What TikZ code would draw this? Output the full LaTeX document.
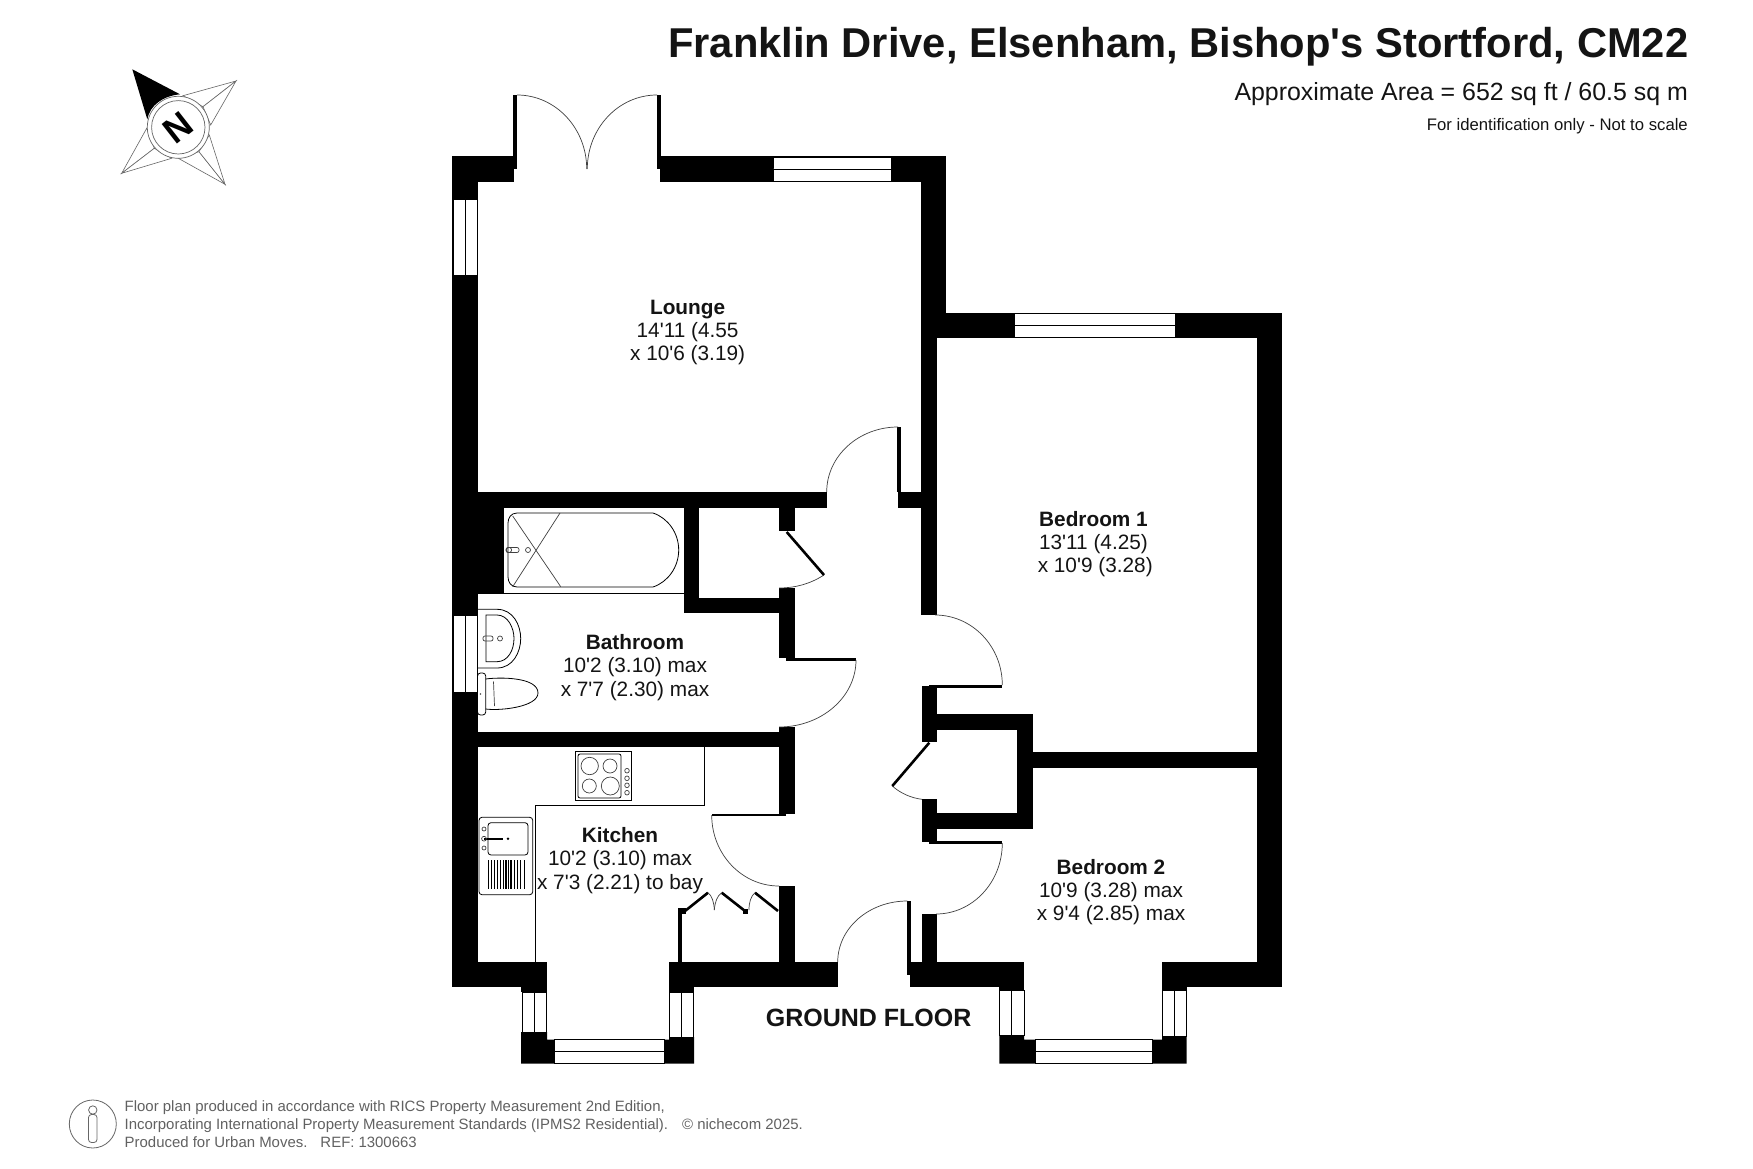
\documentclass[tikz,border=0pt]{standalone}
\usepackage{fontspec}
\setmainfont[Ligatures=TeXOff]{Liberation Sans}
\usetikzlibrary{calc}
\newcommand\fz[2]{\fontsize{#1}{#2}\selectfont}
\newcommand\wal[4]{\fill[wallfill] (#1,#2) rectangle (#3,#4);}
\newcommand\swing[3]{\draw[fine] (#1) .. controls ($(#1)!.5523!(#3)$) and ($(#2)!.5523!(#3)$) .. (#2);}
\tikzset{
  wallfill/.style={fill=black},
  fine/.style={draw=black!75,line width=0.7pt},
  fitting/.style={draw=black,line width=0.8pt},
  glazing/.style={draw=black,fill=white,line width=0.9pt},
  roomlabel/.style={align=center,inner sep=0pt,text=black!92,font=\fz{20.8}{23.2}},
  compassarm/.style={draw=black!60,fill=white,line width=0.6pt},
  footer/.style={text=black!62,align=left,inner sep=0pt,font=\fz{14.95}{18.4}},
}
\newcommand\winv[3]{\draw[glazing] (#1,#2) rectangle (#1+24.5,#3); \draw[glazing] (#1+12,#2) -- (#1+12,#3);}
\newcommand\winh[3]{\draw[glazing] (#1,#2) rectangle (#3,#2+24); \draw[glazing] (#1,#2+12) -- (#3,#2+12);}
\begin{document}
\begin{tikzpicture}[x=1pt,y=-1pt]
\useasboundingbox (0,0) rectangle (1753,1169);
\fill[white] (0,0) rectangle (1753,1169);
% ---- titles
\node[anchor=east,inner sep=0pt,font=\fz{41.7}{45}\bfseries,text=black!92] (title) at (1688.5,46.5) {Franklin Drive, Elsenham, Bishop's Stortford, CM22};
\node[anchor=east,inner sep=0pt,font=\fz{24.9}{28},text=black!92] (area) at (1688,94.5) {Approximate Area = 652 sq ft / 60.5 sq m};
\node[anchor=east,inner sep=0pt,font=\fz{16.7}{19},text=black!92] (note) at (1688,126) {For identification only - Not to scale};
% ---- compass
\coordinate (cc) at (178.3,127.3);
\draw[compassarm] (236,81) -- (183,95.7) -- (203,106.7) -- cycle;
\draw[compassarm] (236,81) -- (210.7,125) -- (203,106.7) -- cycle;
\draw[compassarm] (121.7,173.3) -- (146.7,128.3) -- (154.3,148.3) -- cycle;
\draw[compassarm] (121.7,173.3) -- (171.7,158.3) -- (154.3,148.3) -- cycle;
\draw[compassarm] (225,184.3) -- (178.3,158.3) -- (199,151.7) -- cycle;
\draw[compassarm] (225,184.3) -- (209.3,135) -- (199,151.7) -- cycle;
\fill[black] (132.3,69.3) -- (180,94.3) .. controls (163,96) and (150,105) .. (147.3,119.3) -- cycle;
\draw[fine,fill=white,draw=black!60] (cc) circle[radius=31];
\draw[fine,draw=black!60] (cc) circle[radius=26.7];
\node[rotate=38,inner sep=0pt,font=\fz{36}{38}\bfseries] (northmark) at (cc) {N};
% ---- walls
\wal{452}{156}{478}{987}
\wal{452}{156}{514}{182}
\wal{513}{95}{517}{169}
\wal{657}{95}{661}{169}
\wal{660}{156}{946}{182}
\wal{921}{156}{946}{338}
\wal{921}{338}{936.5}{615}
\wal{921}{313}{1282}{338}
\wal{1257.3}{313}{1282}{987}
\wal{478}{492}{827}{508}
\wal{898}{492}{936}{508}
\wal{897}{427}{901}{492}
\wal{452}{508}{504}{594}
\wal{684}{508}{699}{613}
\wal{684}{598}{795}{613}
\wal{779}{508}{795}{531}
\wal{779}{588}{795}{658}
\wal{786}{658}{856}{661}
\wal{779}{727}{795}{813.5}
\wal{478}{732}{795}{747}
\wal{711.7}{813.5}{786}{816}
\wal{779}{886}{795}{962}
\wal{452}{962}{547}{987}
\wal{669}{962}{838}{987}
\wal{910}{962}{1024}{987}
\wal{1162}{962}{1282}{987}
\wal{907.3}{901}{910.7}{975}
\wal{922}{686}{937}{742}
\wal{929.3}{685}{1002.3}{687.5}
\wal{937}{714}{1033}{730}
\wal{1017}{714}{1033}{829}
\wal{922}{799.3}{937}{842}
\wal{922}{813}{1033}{829}
\wal{929.3}{841}{1002.3}{844}
\wal{922}{914}{937}{962}
\wal{1033}{752}{1257.3}{768}
% bay blocks, kitchen
\wal{521}{987}{547}{992}
\wal{669}{987}{694}{992}
\fill[wallfill] (521,1032) -- (547,1032) -- (547,1039.5) -- (554,1039.5) -- (554,1063.5) -- (521,1063.5) -- cycle;
\fill[wallfill] (664,1039.5) -- (669,1039.5) -- (669,1037) -- (694,1037) -- (694,1063.5) -- (664,1063.5) -- cycle;
% bay blocks, bedroom 2
\wal{999.3}{987}{1024}{990}
\wal{1162}{987}{1186.7}{990}
\fill[wallfill] (999.3,1035) -- (1024,1035) -- (1024,1039.5) -- (1035,1039.5) -- (1035,1063.5) -- (999.3,1063.5) -- cycle;
\fill[wallfill] (1152.7,1039.5) -- (1162,1039.5) -- (1162,1036) -- (1186.7,1036) -- (1186.7,1063.5) -- (1152.7,1063.5) -- cycle;
% ---- windows
\winv{453}{199}{275}
\winv{453}{615}{692}
\winv{522}{992}{1032}
\winv{669.2}{992}{1037}
\winv{999.5}{990}{1035}
\winv{1162}{990}{1036}
\winh{773}{157}{891}
\winh{1014}{313.7}{1175}
\winh{554}{1039.5}{664}
\winh{1035}{1039.5}{1152.7}
% ---- door swings
\swing{517,95}{586.7,169}{586.7,95}
\swing{657,95}{587.3,169}{587.3,95}
\swing{826.7,492}{898,427}{826.7,427}
\swing{856,660}{779,727}{856,727}
\swing{711.7,815}{779,886}{711.7,886}
\swing{907.3,901}{837.7,962}{837.7,901}
\swing{935,615}{1002.3,685}{1002.3,615}
\swing{1002.3,843}{936,914}{1002.3,914}
\draw[fine] (824,575) .. controls (810,584) and (795,588) .. (779,588);
\draw[fine] (892.3,786) .. controls (900,793) and (911,798) .. (922,799.3);
\draw[black,line width=2.6pt] (786.7,532) -- (824,575);
\draw[black,line width=2.6pt] (929.3,742.7) -- (892.3,786);
% bi-fold cupboard
\wal{677.7}{908}{682.3}{962}
\fill[wallfill] (677.7,908) rectangle (686,914);
\fill[wallfill] (743,908.5) rectangle (748,914);
\draw[black,line width=2.6pt] (685,911) -- (708,892.7);
\draw[black,line width=2.6pt] (721.7,892.7) -- (745,911);
\draw[black,line width=2.6pt] (755,892.7) -- (778,911);
\draw[fine] (708,892.7) .. controls (712,896) and (714,902) .. (714.3,910);
\draw[fine] (721.7,892.7) .. controls (717,896) and (715,902) .. (714.3,910);
\draw[fine] (755,892.7) .. controls (751,896) and (749,902) .. (749,910);
% ---- bath
\draw[fitting] (504,593.2) -- (684,593.2);
\draw[fitting] (517,513) -- (653,513) .. controls (668,518) and (678.7,533) .. (678.7,550) .. controls (678.7,567) and (668,582) .. (653,587) -- (517,587) .. controls (511,587) and (508,582) .. (508,577) -- (508,523) .. controls (508,518) and (511,513) .. (517,513) -- cycle;
\draw[fine] (512.7,516) -- (560.7,586.7);
\draw[fine] (560,513) -- (512.7,586.7);
\draw[fine] (509,550) circle[radius=2.6];
\draw[fine,rounded corners=2pt] (506,547.5) rectangle (519,552.5);
\draw[fine] (528,550) circle[radius=2.5];
% ---- basin
\draw[fitting] (478,609.3) -- (497,609.3) .. controls (513,609.3) and (520.7,625) .. (520.7,638.5) .. controls (520.7,652) and (513,668) .. (497,668) -- (478,668);
\draw[fitting] (486,615) -- (497,615) .. controls (508,615) and (514,628) .. (514,638.5) .. controls (514,650) and (508,661.7) .. (497,661.7) -- (486,661.7) -- cycle;
\draw[fine,rounded corners=2pt] (483,636) rectangle (493,641);
\draw[fine] (500,638.5) circle[radius=2.5];
% ---- toilet
\draw[fitting,rounded corners=3pt] (477.5,673) rectangle (485.7,715);
\fill[black!70] (480.5,694) circle[radius=0.9];
\draw[fitting] (485.7,679) .. controls (500,677) and (538,677) .. (538,693) .. controls (538,707) and (500,711) .. (485.7,709);
\draw[fine] (493.5,681.5) -- (494.5,706);
% ---- kitchen
\draw[fitting] (704.3,747) -- (704.3,805.3) -- (535.7,805.3) -- (535.7,962);
\draw[fitting] (575.3,751.3) rectangle (631.7,800.3);
\draw[fitting,rounded corners=2pt] (578,754) rectangle (621,798);
\draw[fine] (589.7,766) circle[radius=8.7];
\draw[fine] (610,766) circle[radius=7];
\draw[fine] (589.3,786) circle[radius=7];
\draw[fine] (610.3,786) circle[radius=9];
\foreach \ky in {770.7,778.3,785.3,792.7} \draw[fine] (627,\ky) circle[radius=2.3];
\draw[fitting,rounded corners=3pt] (479,817.3) rectangle (532.7,894.7);
\draw[fitting,rounded corners=3pt] (488,822.7) rectangle (528,855);
\draw[black,line width=1.6pt] (484,838.7) -- (503.3,838.7);
\draw[fine] (484,838.7) circle[radius=2.4];
\fill[black] (508,838.7) circle[radius=1.4];
\draw[fine] (484,829) circle[radius=2];
\draw[fine] (484,848) circle[radius=2];
\foreach \dx/\dw in {488.5/1.4,491.5/.7,494.5/.7,497.5/.9,500.5/.7,503.5/1,506/1.4,508.5/1.8,511/1.4,514/.9,517/.9,520/.7,524.5/1.2}
  \draw[black,line width=\dw pt] (\dx,860) -- (\dx,889.3);
% ---- room labels
\node[roomlabel] (lounge) at (687.6,332.5) {\textbf{Lounge}\\14'11 (4.55\\x 10'6 (3.19)};
\node[roomlabel] (bathroom) at (635,667.5) {\textbf{Bathroom}\\10'2 (3.10) max\\x 7'7 (2.30) max};
\node[roomlabel] (kitchen) at (620,860.5) {\textbf{Kitchen}\\10'2 (3.10) max\\x 7'3 (2.21) to bay};
\node[roomlabel] (bedroomone) at (1093.5,544) {\textbf{Bedroom 1}\\13'11 (4.25)\\\,x 10'9 (3.28)};
\node[roomlabel] (bedroomtwo) at (1111,892) {\textbf{Bedroom 2}\\10'9 (3.28) max\\x 9'4 (2.85) max};
\node[inner sep=0pt,font=\fz{25}{28}\bfseries,text=black!92] (floorname) at (868.6,1017.5) {GROUND FLOOR};
% ---- footer
\draw[draw=black!60,line width=0.8pt] (92.8,1124) ellipse[x radius=23.5,y radius=24];
\draw[draw=black!60,line width=0.8pt] (92.8,1110) circle[radius=4.2];
\draw[draw=black!60,line width=0.8pt,rounded corners=3pt] (88.5,1114.5) rectangle (97,1142.5);
\node[footer,anchor=west] (credits) at (124.5,1124.2) {Floor plan produced in accordance with RICS Property Measurement 2nd Edition,\\Incorporating International Property Measurement Standards (IPMS2 Residential).\hspace{14pt}© nichecom 2025.\\Produced for Urban Moves.\hspace{13pt}REF:\hspace{4pt}1300663};
\end{tikzpicture}
\end{document}
